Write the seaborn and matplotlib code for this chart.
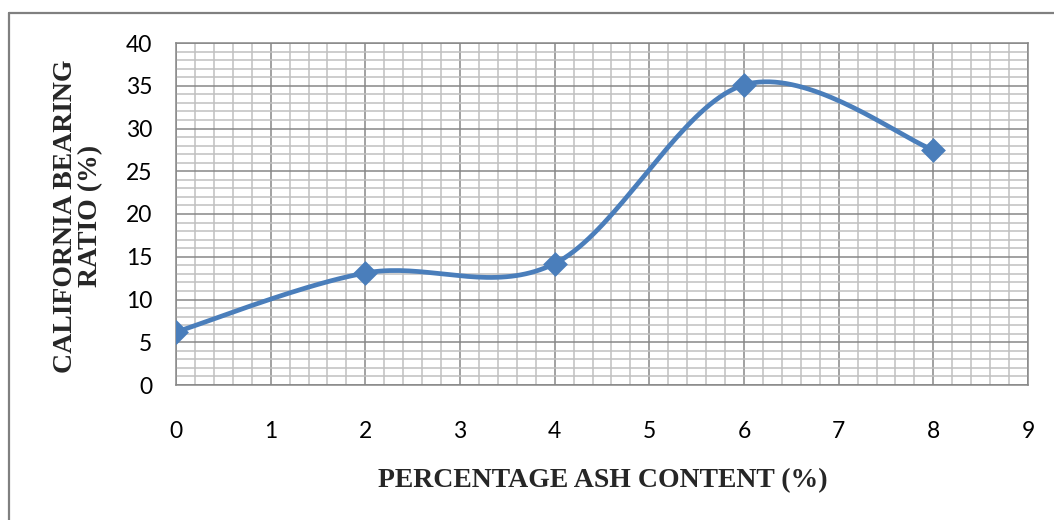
import matplotlib
matplotlib.use("Agg")
import matplotlib.pyplot as plt
import numpy as np
import seaborn as sns
from matplotlib.lines import Line2D
from matplotlib.ticker import MultipleLocator

# Data
ash_content = [0, 2, 4, 6, 8]
cbr = [6.2, 13.1, 14.2, 35.1, 27.5]

x_ticks = [0, 1, 2, 3, 4, 5, 6, 7, 8, 9]
y_ticks = [0, 5, 10, 15, 20, 25, 30, 35, 40]

line_color = "#4A7EBB"
major_grid = "#878787"
minor_grid = "#C0C0C0"


def smooth_curve(xs, ys, n=40):
    # Excel-style smoothed line (Catmull-Rom through the points)
    p = np.column_stack([xs, ys]).astype(float)
    p = np.vstack([p[0], p, p[-1]])
    out = []
    for i in range(1, len(p) - 2):
        p0, p1, p2, p3 = p[i - 1], p[i], p[i + 1], p[i + 2]
        b1 = p1 + (p2 - p0) / 6
        b2 = p2 - (p3 - p1) / 6
        t = np.linspace(0, 1, n)[:, None]
        seg = ((1 - t) ** 3) * p1 + 3 * ((1 - t) ** 2) * t * b1 \
            + 3 * (1 - t) * t ** 2 * b2 + t ** 3 * p2
        out.append(seg if i == 1 else seg[1:])
    out = np.vstack(out)
    return out[:, 0], out[:, 1]


sns.set_style("white")
plt.rcParams["font.family"] = ["Lato", "DejaVu Sans"]

fig = plt.figure(figsize=(10.54, 5.2), dpi=100)
ax = fig.add_axes([176 / 1054, 1 - 385 / 520, (1028 - 176) / 1054, (385 - 43) / 520])

sx, sy = smooth_curve(ash_content, cbr)
sns.lineplot(x=sx, y=sy, ax=ax, color=line_color, linewidth=3.4,
             sort=False, estimator=None, zorder=3)
sns.scatterplot(x=ash_content, y=cbr, ax=ax, marker="D", s=160,
                color=line_color, edgecolor=line_color, linewidth=0, zorder=4)

ax.set_xlim(0, 9)
ax.set_ylim(0, 40)
ax.set_xticks(x_ticks)
ax.set_yticks(y_ticks)
ax.xaxis.set_minor_locator(MultipleLocator(0.2))
ax.yaxis.set_minor_locator(MultipleLocator(1))
ax.grid(which="minor", color=minor_grid, linewidth=1.1)
ax.grid(which="major", color=major_grid, linewidth=1.1)
ax.set_axisbelow(True)

ax.tick_params(which="major", length=6, width=1, color=major_grid,
               labelsize=16.5, labelcolor="black")
ax.tick_params(axis="x", which="major", pad=20)
ax.tick_params(axis="y", which="major", pad=11)
ax.tick_params(which="minor", length=0)
for s in ax.spines.values():
    s.set_color(major_grid)
    s.set_linewidth(1.1)

serif = dict(family=["Liberation Serif", "DejaVu Serif"], weight="bold", size=20)
fig.text(603 / 1054, 1 - 481 / 520, "PERCENTAGE ASH CONTENT (%)",
         ha="center", va="center", **serif)
fig.text(78 / 1054, 1 - 216 / 520, "CALIFORNIA BEARING\nRATIO (%)",
         ha="center", va="center", rotation=90, linespacing=1.05, **serif)

# outer chart border (top and left visible)
fig.add_artist(Line2D([9 / 1054, 1.0], [1 - 13 / 520, 1 - 13 / 520],
                      color="#808080", linewidth=1.6, transform=fig.transFigure))
fig.add_artist(Line2D([9 / 1054, 9 / 1054], [0.0, 1 - 13 / 520],
                      color="#808080", linewidth=1.6, transform=fig.transFigure))

fig.savefig("out.png", dpi=100)
